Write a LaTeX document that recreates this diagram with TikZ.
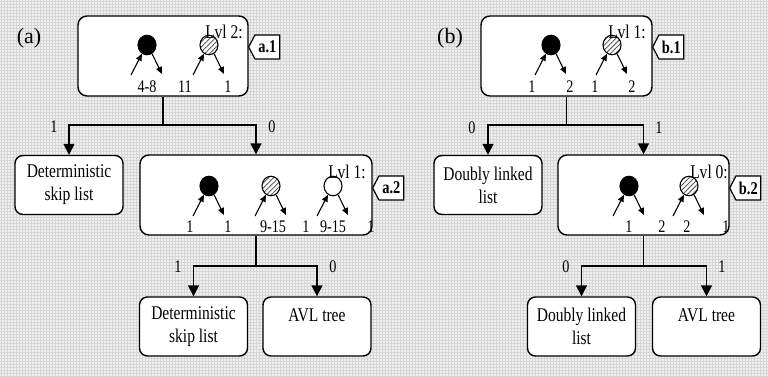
\documentclass[tikz,border=0pt]{standalone}
\usepackage{fontspec}
\setmainfont{Liberation Serif}[FakeStretch=0.8]
\newfontfamily\labfont{Liberation Serif}
\usetikzlibrary{arrows.meta,patterns.meta,shapes.symbols,shapes.geometric,calc}
\tikzset{
  bigbox/.style={draw, line width=1.4pt, rounded corners=9pt, fill=white,
    minimum width=#1, minimum height=80pt, inner sep=0pt},
  listbox/.style={draw, line width=1.4pt, rounded corners=8pt, fill=white,
    minimum width=108pt, minimum height=59pt, align=center, inner sep=0pt,
    font=\fontsize{19.4}{23}\selectfont},
  conn/.style={line width=1.5pt, -{Triangle[length=11pt,width=11pt]}},
  sarrow/.style={line width=1.1pt, -{Triangle[length=7pt,width=6pt]}},
  dot/.style={ellipse, draw, line width=1.1pt, minimum width=18pt, minimum height=19.5pt, inner sep=0pt},
  blackdot/.style={dot, fill=black},
  hatchdot/.style={dot, preaction={fill=white},
    pattern={Lines[angle=45,distance=3.5pt,line width=0.9pt]}, pattern color=black!65},
  whitedot/.style={dot, fill=white},
  numlab/.style={inner sep=0pt, font=\fontsize{17.7}{20}\selectfont},
  lvllab/.style={inner sep=0pt, font=\fontsize{19.4}{23}\selectfont},
  panellab/.style={inner sep=0pt, font=\labfont\fontsize{22}{24}\selectfont},
  tagbox/.style={signal, signal to=west, signal pointer angle=125, draw,
    line width=1.2pt, fill=white, minimum width=31pt, minimum height=24pt,
    inner sep=1pt, anchor=west, font=\bfseries\fontsize{18}{20}\selectfont},
  gridline/.style={line width=0.8pt, black!16},
}
\newcommand\mydot[4]{%
  \node[#4] (#1) at (#2,#3) {};
  \draw[sarrow] ($(#1)+(-16,30)$) -- (#1.240);
  \draw[sarrow] (#1.300) -- ($(#1)+(15,29)$);
}
\begin{document}
\begin{tikzpicture}[x=1pt,y=-1pt]
\path[use as bounding box] (0,0) rectangle (768,377);
\fill[black!6] (0,0) rectangle (768,377);
\foreach \i in {1.5,4.5,...,768} \draw[gridline] (\i,0) -- (\i,377);
\foreach \j in {1.5,4.5,...,377} \draw[gridline] (0,\j) -- (768,\j);

% panel labels
\node[panellab] (pa) at (29,38) {(a)};
\node[panellab] (pb) at (450,38) {(b)};

% big boxes
\node[bigbox=170pt] (a1) at (163,56) {};
\node[bigbox=232pt] (a2) at (256,195) {};
\node[bigbox=171pt] (b1) at (566.5,56) {};
\node[bigbox=171pt] (b2) at (643.5,195) {};

% list boxes
\node[listbox] (d1) at (69,185) {Deterministic\\skip list};
\node[listbox] (d2) at (193.5,326.5) {Deterministic\\skip list};
\node[listbox] (avl1) at (317,326.5) {AVL tree\\~};
\node[listbox] (dll1) at (488,185) {Doubly linked\\list};
\node[listbox] (dll2) at (581.5,326.5) {Doubly linked\\list};
\node[listbox] (avl2) at (706.5,326.5) {AVL tree\\~};

% circles
\mydot{ca1}{147}{45}{blackdot}
\mydot{ca2}{209}{45}{hatchdot}
\mydot{cb1}{209}{186}{blackdot}
\mydot{cb2}{271}{186}{hatchdot}
\mydot{cb3}{333}{186}{whitedot}
\mydot{cc1}{551}{45}{blackdot}
\mydot{cc2}{612}{45}{hatchdot}
\mydot{cd1}{629}{186}{blackdot}
\mydot{cd2}{689}{186}{hatchdot}

% level labels
\node[lvllab] (lv1) at (224,32) {Lvl 2:};
\node[lvllab] (lv2) at (347,172) {Lvl 1:};
\node[lvllab] (lv3) at (627,32) {Lvl 1:};
\node[lvllab] (lv4) at (709,172) {Lvl 0:};

% numbers
\node[numlab] (n1) at (147,87) {4-8};
\node[numlab] (n2) at (185,87) {11};
\node[numlab] (n3) at (228,87) {1};
\node[numlab] (n4) at (190,227) {1};
\node[numlab] (n5) at (228,227) {1};
\node[numlab] (n6) at (273,227) {9-15};
\node[numlab] (n7) at (306,227) {1};
\node[numlab] (n8) at (333,227) {9-15};
\node[numlab] (n9) at (371,227) {1};
\node[numlab] (m1) at (532,87) {1};
\node[numlab] (m2) at (570,87) {2};
\node[numlab] (m3) at (595,87) {1};
\node[numlab] (m4) at (632,87) {2};
\node[numlab] (m5) at (629,227) {1};
\node[numlab] (m6) at (662,227) {2};
\node[numlab] (m7) at (687,227) {2};
\node[numlab] (m8) at (726,227) {1};

% tags
\node[tagbox] (ta1) at (248,47) {a.1};
\node[tagbox] (ta2) at (372,188) {a.2};
\node[tagbox] (tb1) at (652,47) {b.1};
\node[tagbox] (tb2) at (729,188) {b.2};

% connectors
\coordinate (ja) at (163,125);
\coordinate (ja2) at (256,266);
\coordinate (jb) at (566.5,125);
\coordinate (jb2) at (643.5,266);
\draw[conn] (a1.south) -- (ja) -| (d1.north);
\draw[conn] (ja) -| (a2.north);
\draw[conn] (a2.south) -- (ja2) -| (d2.north);
\draw[conn] (ja2) -| (avl1.north);
\draw[conn] (b1.south) -- (jb) -| (dll1.north);
\draw[conn] (jb) -| (b2.north);
\draw[conn] (b2.south) -- (jb2) -| (dll2.north);
\draw[conn] (jb2) -| (avl2.north);

% branch labels
\node[numlab] (e1) at (54,127) {1};
\node[numlab] (e2) at (272,127) {0};
\node[numlab] (e3) at (178,267) {1};
\node[numlab] (e4) at (333,267) {0};
\node[numlab] (e5) at (472,128) {0};
\node[numlab] (e6) at (659,128) {1};
\node[numlab] (e7) at (566,267) {0};
\node[numlab] (e8) at (722,267) {1};
\end{tikzpicture}
\end{document}
